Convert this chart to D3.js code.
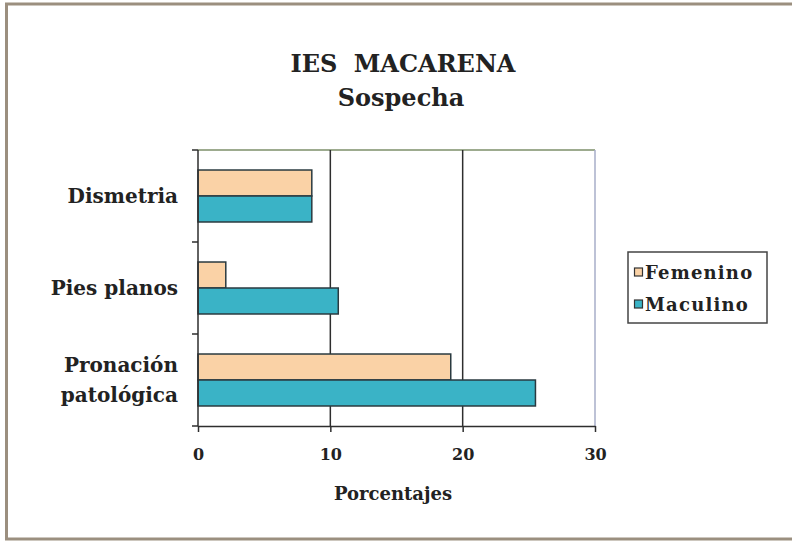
<!DOCTYPE html>
<html><head><meta charset="utf-8">
<script src="https://cdn.jsdelivr.net/npm/d3@7/dist/d3.min.js"></script>
<style>body{margin:0;background:#fff}svg{display:block}</style>
</head><body><svg id="c" width="792" height="544"></svg>
<script>
const categories = ["Dismetria", "Pies planos", "Pronación patológica"];
const categoryLines = [["Dismetria"], ["Pies planos"], ["Pronación", "patológica"]];
const seriesNames = ["Femenino", "Maculino"];
const femenino = [8.6, 2.1, 19.1];
const masculino = [8.6, 10.6, 25.5];
const xTicks = [0, 10, 20, 30];
const colors = ["#FAD2A6", "#3AB3C6"];

const svg = d3.select("#c");
const font = "'DejaVu Serif', serif";
// outer frame
svg.append("rect").attr("x", 6.5).attr("y", 4).attr("width", 800).attr("height", 535)
  .attr("fill", "#fff").attr("stroke", "#9b8f7f").attr("stroke-width", 3);

const m = {l: 198, r: 595, t: 150, b: 426};
const x = d3.scaleLinear().domain([0, 30]).range([m.l, m.r]);
const y = d3.scaleBand().domain(categories).range([m.t, m.b]).padding(0);
const ys = d3.scaleBand().domain(seriesNames).range([0, y.bandwidth()]).paddingInner(0).paddingOuter(0.77);

// plot border top/right
svg.append("line").attr("x1", m.l).attr("x2", m.r).attr("y1", m.t).attr("y2", m.t).attr("stroke", "#7d8f6a").attr("stroke-width", 1.5);
svg.append("line").attr("x1", m.r).attr("x2", m.r).attr("y1", m.t).attr("y2", m.b).attr("stroke", "#a7aec8").attr("stroke-width", 1.5);
// gridlines
svg.append("g").selectAll("line").data([10, 20]).join("line")
  .attr("x1", d => x(d)).attr("x2", d => x(d)).attr("y1", m.t).attr("y2", m.b)
  .attr("stroke", "#2e2e2e").attr("stroke-width", 1.5);

const data = categories.map((c, i) => ({c, vals: [femenino[i], masculino[i]]}));
const g = svg.append("g");
data.forEach(d => {
  d.vals.forEach((v, j) => {
    g.append("rect").attr("x", x(0)).attr("y", y(d.c) + ys(seriesNames[j]))
      .attr("width", x(v) - x(0)).attr("height", ys.bandwidth())
      .attr("fill", colors[j]).attr("stroke", "#2a3a40").attr("stroke-width", 1.5);
  });
});

// x axis
const xa = svg.append("g").attr("transform", `translate(0,${m.b})`)
  .call(d3.axisBottom(x).tickValues(xTicks).tickSize(6).tickSizeOuter(0).tickFormat(d3.format("d")));
xa.select(".domain").attr("stroke", "#2e2e2e").attr("stroke-width", 1.5);
xa.selectAll(".tick line").attr("stroke", "#2e2e2e").attr("stroke-width", 1.5);
xa.selectAll("text").attr("font-family", font).attr("font-weight", "bold").attr("font-size", 16)
  .attr("fill", "#222").attr("y", 34).attr("dy", 0);

// y axis: ticks at band boundaries
svg.append("line").attr("x1", m.l).attr("x2", m.l).attr("y1", m.t).attr("y2", m.b).attr("stroke", "#2e2e2e").attr("stroke-width", 1.5);
const bounds = categories.map(c => y(c)).concat([m.b]);
svg.append("g").selectAll("line").data(bounds).join("line")
  .attr("x1", m.l - 6).attr("x2", m.l).attr("y1", d => d).attr("y2", d => d)
  .attr("stroke", "#2e2e2e").attr("stroke-width", 1.5);

// y labels
categories.forEach((c, i) => {
  const lines = categoryLines[i];
  const cy = y(c) + y.bandwidth() / 2 + 7;
  const t = svg.append("text").attr("x", 178).attr("text-anchor", "end")
    .attr("font-family", font).attr("font-weight", "bold").attr("font-size", 20).attr("fill", "#222");
  lines.forEach((l, k) => {
    t.append("tspan").attr("x", 178).attr("y", cy + (k - (lines.length - 1) / 2) * 30).text(l);
  });
});

// titles
svg.append("text").attr("x", 403).attr("y", 72).attr("text-anchor", "middle").attr("word-spacing", 8)
  .attr("font-family", font).attr("font-weight", "bold").attr("font-size", 24).attr("fill", "#222").text("IES MACARENA");
svg.append("text").attr("x", 401).attr("y", 106).attr("text-anchor", "middle")
  .attr("font-family", font).attr("font-weight", "bold").attr("font-size", 24).attr("fill", "#222").text("Sospecha");
svg.append("text").attr("x", 393).attr("y", 500).attr("text-anchor", "middle")
  .attr("font-family", font).attr("font-weight", "bold").attr("font-size", 18).attr("fill", "#222").text("Porcentajes");

// legend
const lg = svg.append("g");
lg.append("rect").attr("x", 628).attr("y", 252).attr("width", 139).attr("height", 71)
  .attr("fill", "#fff").attr("stroke", "#444").attr("stroke-width", 1.5);
seriesNames.forEach((s, i) => {
  const yy = 279 + i * 32;
  lg.append("rect").attr("x", 634.5).attr("y", yy - 11).attr("width", 8).attr("height", 8)
    .attr("fill", colors[i]).attr("stroke", "#333").attr("stroke-width", 1.2);
  lg.append("text").attr("x", 645).attr("y", yy).attr("font-family", font).attr("font-weight", "bold")
    .attr("font-size", 18).attr("letter-spacing", 1.2).attr("fill", "#222").text(s);
});
</script></body></html>
